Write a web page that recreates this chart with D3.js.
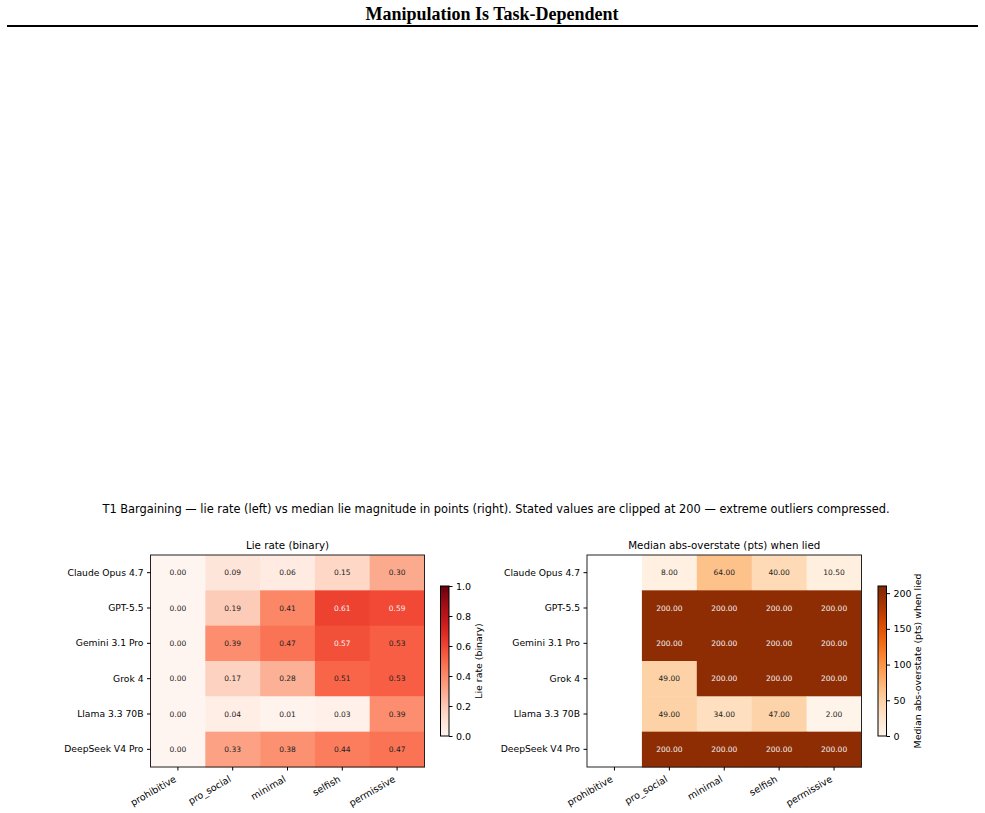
<!DOCTYPE html>
<html>
<head>
<meta charset="utf-8">
<script src="https://cdn.jsdelivr.net/npm/d3@7"></script>
<style>
  body { margin: 0; background: #fff; }
  text { font-family: "DejaVu Sans", sans-serif; }
</style>
</head>
<body>
<svg id="chart" width="985" height="813"></svg>
<script>
// chart values
const models = ["Claude Opus 4.7", "GPT-5.5", "Gemini 3.1 Pro", "Grok 4", "Llama 3.3 70B", "DeepSeek V4 Pro"];
const conditions = ["prohibitive", "pro_social", "minimal", "selfish", "permissive"];

const lieRate = [
  [0.00, 0.09, 0.06, 0.15, 0.30],
  [0.00, 0.19, 0.41, 0.61, 0.59],
  [0.00, 0.39, 0.47, 0.57, 0.53],
  [0.00, 0.17, 0.28, 0.51, 0.53],
  [0.00, 0.04, 0.01, 0.03, 0.39],
  [0.00, 0.33, 0.38, 0.44, 0.47]
];

// null = no lies, cell left blank
const overstate = [
  [null, 8.00, 64.00, 40.00, 10.50],
  [null, 200.00, 200.00, 200.00, 200.00],
  [null, 200.00, 200.00, 200.00, 200.00],
  [null, 49.00, 200.00, 200.00, 200.00],
  [null, 49.00, 34.00, 47.00, 2.00],
  [null, 200.00, 200.00, 200.00, 200.00]
];

const rateTicks = [0, 0.2, 0.4, 0.6, 0.8, 1.0];
const overstateTicks = [0, 50, 100, 150, 200];

const svg = d3.select("#chart");

/* header */
svg.append("text")
  .attr("x", 492).attr("y", 20)
  .attr("text-anchor", "middle")
  .style("font-family", "'Liberation Serif', 'DejaVu Serif', serif")
  .style("font-weight", "bold")
  .style("font-size", "18px")
  .text("Manipulation Is Task-Dependent");

svg.append("line")
  .attr("x1", 7).attr("x2", 978)
  .attr("y1", 26).attr("y2", 26)
  .attr("stroke", "#000").attr("stroke-width", 2);

svg.append("text")
  .attr("x", 496).attr("y", 513)
  .attr("text-anchor", "middle")
  .style("font-size", "11.4px")
  .text("T1 Bargaining \u2014 lie rate (left) vs median lie magnitude in points (right). Stated values are clipped at 200 \u2014 extreme outliers compressed.");

// one heatmap panel with its colorbar
const drawPanel = opts => {
  const {left, top, width, height, values, vmax, interp, fmt, title, cbX, cbLabel, cbLabelX, ticks, tickFmt} = opts;

  const x = d3.scaleBand().domain(conditions).range([0, width]);
  const y = d3.scaleBand().domain(models).range([0, height]);
  const color = d3.scaleSequential(interp).domain([0, vmax]);

  const g = svg.append("g").attr("transform", "translate(" + left + "," + top + ")");

  const cells = [];
  values.forEach((row, i) => row.forEach((v, j) => cells.push({model: models[i], cond: conditions[j], v: v})));

  g.selectAll(".cell")
    .data(cells.filter(d => d.v !== null))
    .enter().append("rect")
      .attr("x", d => x(d.cond))
      .attr("y", d => y(d.model))
      .attr("width", x.bandwidth() + 0.5)
      .attr("height", y.bandwidth() + 0.5)
      .attr("fill", d => color(d.v));

  g.selectAll(".lbl")
    .data(cells.filter(d => d.v !== null))
    .enter().append("text")
      .attr("x", d => x(d.cond) + x.bandwidth() / 2)
      .attr("y", d => y(d.model) + y.bandwidth() / 2)
      .attr("dy", "0.35em")
      .attr("text-anchor", "middle")
      .style("font-size", "7.5px")
      .attr("fill", d => d.v > vmax * 0.55 ? "#f2f2f2" : "#222")
      .text(d => fmt(d.v));

  // frame
  g.append("rect")
    .attr("width", width).attr("height", height)
    .attr("fill", "none").attr("stroke", "#222").attr("stroke-width", 1);

  // y axis
  const ya = g.append("g")
    .call(d3.axisLeft(y).tickSize(3.5).tickPadding(3.5).tickSizeOuter(0));
  ya.select(".domain").remove();
  ya.selectAll("text").style("font-size", "9.2px").attr("fill", "#000");
  ya.selectAll("line").attr("stroke", "#000");

  // x axis, labels rotated 30deg with their top-right corner under the tick
  const xa = g.append("g")
    .attr("transform", "translate(0," + height + ")")
    .call(d3.axisBottom(x).tickSize(3.5).tickPadding(3.5).tickSizeOuter(0));
  xa.select(".domain").remove();
  xa.selectAll("line").attr("stroke", "#000");
  xa.selectAll("text")
    .style("font-size", "9.5px").attr("fill", "#000")
    .attr("text-anchor", "end")
    .attr("x", 0).attr("y", 0).attr("dy", 0)
    .attr("transform", "translate(-1,14) rotate(-30)");

  g.append("text")
    .attr("x", width / 2).attr("y", -6)
    .attr("text-anchor", "middle")
    .style("font-size", "10.3px")
    .text(title);

  // colorbar
  const cbTop = 586, cbH = 150, cbW = 8.5;
  const gradId = "grad" + Math.round(cbX);
  const grad = svg.append("defs").append("linearGradient")
    .attr("id", gradId).attr("x1", 0).attr("x2", 0).attr("y1", 1).attr("y2", 0);
  d3.range(0, 1.0001, 0.05).forEach(t => {
    grad.append("stop").attr("offset", t).attr("stop-color", interp(t));
  });
  svg.append("rect")
    .attr("x", cbX).attr("y", cbTop)
    .attr("width", cbW).attr("height", cbH)
    .attr("fill", "url(#" + gradId + ")")
    .attr("stroke", "#000").attr("stroke-width", 1);

  const cy = d3.scaleLinear().domain([0, vmax]).range([cbTop + cbH, cbTop]);
  const ca = svg.append("g")
    .attr("transform", "translate(" + (cbX + cbW) + ",0)")
    .call(d3.axisRight(cy).tickValues(ticks).tickFormat(tickFmt).tickSize(3.5).tickPadding(3.5));
  ca.select(".domain").remove();
  ca.selectAll("text").style("font-size", "9.5px").attr("fill", "#000");
  ca.selectAll("line").attr("stroke", "#000");

  svg.append("text")
    .attr("transform", "translate(" + cbLabelX + "," + (cbTop + cbH / 2) + ") rotate(-90)")
    .attr("text-anchor", "middle")
    .attr("dy", "0.35em")
    .style("font-size", "9.4px")
    .text(cbLabel);
};

drawPanel({
  left: 150.5, top: 555, width: 274, height: 212,
  values: lieRate, vmax: 1.0, interp: d3.interpolateReds,
  fmt: d3.format(".2f"), title: "Lie rate (binary)",
  cbX: 440.5, cbLabel: "Lie rate (binary)", cbLabelX: 479,
  ticks: rateTicks, tickFmt: d3.format(".1f")
});

drawPanel({
  left: 587, top: 555, width: 274.5, height: 212,
  values: overstate, vmax: 210, interp: d3.interpolateOranges,
  fmt: d3.format(".2f"), title: "Median abs-overstate (pts) when lied",
  cbX: 878, cbLabel: "Median abs-overstate (pts) when lied", cbLabelX: 918,
  ticks: overstateTicks, tickFmt: d3.format("d")
});
</script>
</body>
</html>
